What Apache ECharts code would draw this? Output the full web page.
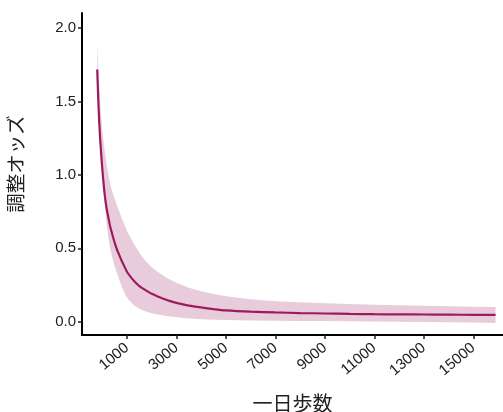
<!DOCTYPE html>
<html>
<head>
<meta charset="utf-8">
<script src="https://cdn.jsdelivr.net/npm/echarts@6/dist/echarts.min.js"></script>
<style>html,body{margin:0;padding:0;background:#fff;}#c{width:503px;height:412px;}</style>
</head>
<body>
<div id="c"></div>
<script>
const steps = [-200, -160, -120, -80, -40, 0, 40, 80, 120, 180, 250, 320, 400, 500, 600, 700, 800, 900, 1000, 1150, 1300, 1450, 1600, 1800, 2000, 2250, 2500, 2750, 3000, 3500, 4000, 4500, 5000, 6000, 7000, 8000, 9000, 10000, 11000, 12000, 13000, 14000, 15000, 15900];
const oddsRatio = [1.717, 1.52, 1.36, 1.24, 1.14, 1.05, 0.97, 0.90, 0.84, 0.77, 0.71, 0.65, 0.60, 0.54, 0.49, 0.45, 0.41, 0.375, 0.34, 0.305, 0.275, 0.25, 0.23, 0.21, 0.19, 0.172, 0.155, 0.14, 0.128, 0.110, 0.097, 0.086, 0.077, 0.068, 0.063, 0.059, 0.056, 0.053, 0.051, 0.050, 0.049, 0.048, 0.047, 0.046];
const upperCI = [1.894, 1.74, 1.61, 1.49, 1.39, 1.31, 1.25, 1.19, 1.14, 1.07, 1.0, 0.94, 0.89, 0.84, 0.79, 0.745, 0.70, 0.66, 0.62, 0.57, 0.525, 0.485, 0.445, 0.405, 0.37, 0.338, 0.31, 0.286, 0.265, 0.232, 0.208, 0.189, 0.174, 0.153, 0.140, 0.132, 0.126, 0.120, 0.116, 0.112, 0.108, 0.105, 0.102, 0.100];
const lowerCI = [1.55, 1.42, 1.30, 1.21, 1.12, 1.02, 0.93, 0.85, 0.77, 0.66, 0.57, 0.50, 0.44, 0.38, 0.33, 0.28, 0.235, 0.197, 0.165, 0.135, 0.11, 0.093, 0.08, 0.067, 0.057, 0.049, 0.042, 0.036, 0.031, 0.022, 0.016, 0.013, 0.011, 0.008, 0.006, 0.005, 0.004, 0.003, 0.002, 0.0, -0.002, -0.004, -0.006, -0.008];
const xTicks = [1000, 3000, 5000, 7000, 9000, 11000, 13000, 15000];
const yTicks = [0, 0.5, 1.0, 1.5, 2.0];
const xName = '一日歩数';
const yName = '調整オッズ';

const lineData = steps.map((s, i) => [s, oddsRatio[i]]);
const bandData = steps.map((s, i) => [s, lowerCI[i], upperCI[i]]);

const chart = echarts.init(document.getElementById('c'), null, {renderer: 'canvas'});
const font = 'Liberation Sans, Arial, Helvetica, sans-serif';
chart.setOption({
  animation: false,
  backgroundColor: '#ffffff',
  grid: {left: 82, right: 0, top: 13, bottom: 77, containLabel: false, outerBoundsMode: 'none'},
  xAxis: {
    type: 'value',
    min: -816, max: 16200,
    name: xName,
    nameLocation: 'middle',
    nameGap: 58,
    nameTextStyle: {fontSize: 20, color: '#222', fontFamily: 'Noto Sans CJK JP'},
    splitLine: {show: false},
    axisLine: {show: true, onZero: false, lineStyle: {color: '#000', width: 2}},
    axisTick: {show: true, length: 4, customValues: xTicks, lineStyle: {color: '#222', width: 1.5}},
    axisLabel: {customValues: xTicks, rotate: 40, fontSize: 15, color: '#222', fontFamily: font, margin: 11,
      formatter: v => String(v)}
  },
  yAxis: {
    type: 'value',
    min: -0.0905, max: 2.102,
    name: yName,
    nameLocation: 'middle',
    nameRotate: 90,
    nameGap: 57,
    nameTextStyle: {fontSize: 19.5, color: '#222', fontFamily: 'Noto Sans CJK JP', padding: [0, 0, 0, 20]},
    splitLine: {show: false},
    axisLine: {show: true, onZero: false, lineStyle: {color: '#000', width: 2}},
    axisTick: {show: true, length: 4, customValues: yTicks, lineStyle: {color: '#222', width: 1.5}},
    axisLabel: {customValues: yTicks, fontSize: 15, color: '#222', fontFamily: font, margin: 6,
      formatter: v => Number(v).toFixed(1)}
  },
  series: [
    {
      type: 'custom',
      data: bandData,
      silent: true,
      z: 1,
      clip: true,
      encode: {x: 0, y: [1, 2]},
      renderItem: function (params, api) {
        if (params.dataIndex !== 0) return null;
        const top = bandData.map(d => api.coord([d[0], d[2]]));
        const bot = bandData.map(d => api.coord([d[0], d[1]])).reverse();
        return {
          type: 'polygon',
          shape: {points: top.concat(bot)},
          style: {fill: '#E8CCDC', stroke: null}
        };
      }
    },
    {type: 'line', data: lineData, symbol: 'none', smooth: 0.2,
      lineStyle: {color: '#9E1A5E', width: 2.2}, z: 3}
  ]
});
</script>
</body>
</html>
